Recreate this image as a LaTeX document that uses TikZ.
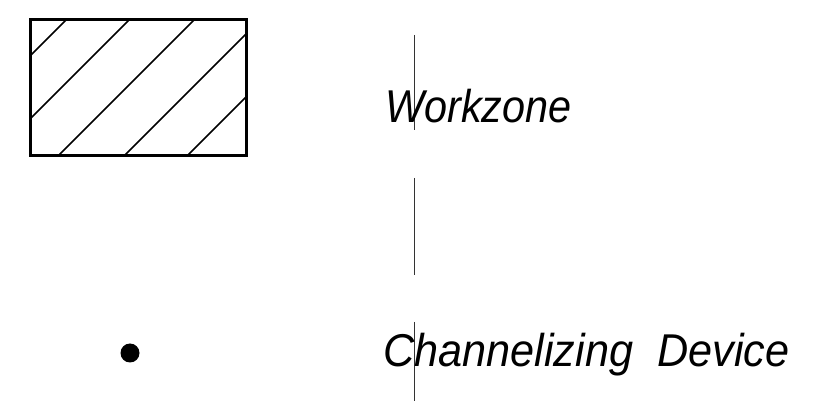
\documentclass[tikz,border=0pt]{standalone}
\usepackage{fontspec}
\usepackage{tkz-euclide}
\setmainfont{Liberation Sans}

\begin{document}
\begin{tikzpicture}[x=1pt,y=-1pt,
	legend/.style={anchor=base west,inner sep=0pt,font=\fontsize{46}{46}\selectfont\itshape}]
	\useasboundingbox (0,0) rectangle (831,403);

	% workzone box
	\tkzDefPoint(30,20){b1}
	\tkzDefPoint(246,20){b2}
	\tkzDefPoint(246,156){b3}
	\tkzDefPoint(30,156){b4}

	\tkzDefPoint(66,20){h1}
	\tkzDefPoint(30,56){h2}
	\tkzDefPoint(129,20){h3}
	\tkzDefPoint(30,119){h4}
	\tkzDefPoint(194,20){h5}
	\tkzDefPoint(58,156){h6}
	\tkzDefPoint(246,34){h7}
	\tkzDefPoint(124,156){h8}
	\tkzDefPoint(246,97){h9}
	\tkzDefPoint(187,156){h10}

	\path[-,line width=1.6pt] (h1) edge (h2);
	\path[-,line width=1.6pt] (h3) edge (h4);
	\path[-,line width=1.6pt] (h5) edge (h6);
	\path[-,line width=1.6pt] (h7) edge (h8);
	\path[-,line width=1.6pt] (h9) edge (h10);
	\draw[line width=3pt] (b1) -- (b2) -- (b3) -- (b4) -- cycle;

	% channelizing device
	\tkzDefPoint(130,353){d}
	\fill (d) circle (9.5);

	% divider
	\tkzDefPoint(414.5,35){v1}
	\tkzDefPoint(414.5,130){v2}
	\tkzDefPoint(414.5,178){v3}
	\tkzDefPoint(414.5,275){v4}
	\tkzDefPoint(414.5,322){v5}
	\tkzDefPoint(414.5,401){v6}

	\path[-,line width=0.8pt,color=black!80] (v1) edge (v2);
	\path[-,line width=0.8pt,color=black!80] (v3) edge (v4);
	\path[-,line width=0.8pt,color=black!80] (v5) edge (v6);

	\node[legend] (workzone) at (385,123) {\scalebox{0.9}[1]{Workzone}};
	\node[legend] (device) at (383,367) {\scalebox{0.94}[1]{Channelizing\ \ Device}};
\end{tikzpicture}
\end{document}
